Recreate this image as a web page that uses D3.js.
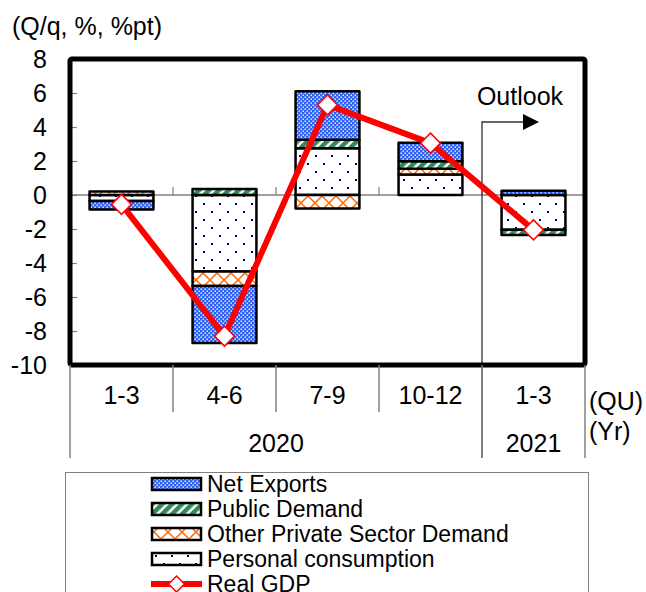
<!DOCTYPE html>
<html>
<head>
<meta charset="utf-8">
<script src="https://cdn.jsdelivr.net/npm/d3@7"></script>
<style>
  html, body { margin: 0; padding: 0; background: #fff; }
  svg { display: block; font-family: "Liberation Sans", Arial, sans-serif; }
</style>
</head>
<body>
<svg id="chart" width="646" height="592"></svg>
<script>
// Quarter labels and year groups for the two-row category axis
const quarters = ["1-3", "4-6", "7-9", "10-12", "1-3"];
const years = [
  { label: "2020", from: 0, to: 4 },
  { label: "2021", from: 4, to: 5 }
];

// Contributions to real GDP growth (q/q, %pt)
const personalConsumption = [-0.35, -4.5, 2.75, 1.2, -2.05];
const otherPrivateDemand  = [0.2, -0.85, -0.8, 0.35, 0];
const publicDemand        = [0, 0.35, 0.5, 0.43, -0.3];
const netExports          = [-0.5, -3.35, 2.85, 1.1, 0.25];
// Real GDP growth (q/q, %)
const realGDP             = [-0.55, -8.3, 5.3, 3.05, -2.05];

const yTicks = [-10, -8, -6, -4, -2, 0, 2, 4, 6, 8];
const outlookStart = 4; // index of the first forecast quarter

const seriesKeys = ["personal", "other", "public", "net"];
const seriesNames = {
  net: "Net Exports",
  public: "Public Demand",
  other: "Other Private Sector Demand",
  personal: "Personal consumption"
};

const rows = quarters.map((q, i) => ({
  i,
  personal: personalConsumption[i],
  other: otherPrivateDemand[i],
  public: publicDemand[i],
  net: netExports[i]
}));

const svg = d3.select("#chart");
const font = 25;
const legendFont = 23;

// ---- patterns ----
const defs = svg.append("defs");

const pNet = defs.append("pattern").attr("id", "pat-net")
  .attr("patternUnits", "userSpaceOnUse").attr("width", 4).attr("height", 4);
pNet.append("rect").attr("width", 4).attr("height", 4).attr("fill", "#2f62f2");
pNet.append("rect").attr("x", 0.5).attr("y", 0.5).attr("width", 1.4).attr("height", 1.4).attr("fill", "#fff");
pNet.append("rect").attr("x", 2.5).attr("y", 2.5).attr("width", 1.4).attr("height", 1.4).attr("fill", "#fff");

const pPub = defs.append("pattern").attr("id", "pat-public")
  .attr("patternUnits", "userSpaceOnUse").attr("width", 7).attr("height", 7)
  .attr("patternTransform", "rotate(45)");
pPub.append("rect").attr("width", 7).attr("height", 7).attr("fill", "#fff");
pPub.append("rect").attr("width", 4.5).attr("height", 7).attr("fill", "#2e8b57");

const pOther = defs.append("pattern").attr("id", "pat-other")
  .attr("patternUnits", "userSpaceOnUse").attr("width", 14).attr("height", 14);
pOther.append("rect").attr("width", 14).attr("height", 14).attr("fill", "#fff");
pOther.append("path").attr("d", "M0,0L14,14M14,0L0,14")
  .attr("stroke", "#ff6a00").attr("stroke-width", 1.5).attr("fill", "none");

const pPers = defs.append("pattern").attr("id", "pat-personal")
  .attr("patternUnits", "userSpaceOnUse").attr("width", 16).attr("height", 16);
pPers.append("rect").attr("width", 16).attr("height", 16).attr("fill", "#fff");
pPers.append("rect").attr("x", 3).attr("y", 3).attr("width", 2).attr("height", 2).attr("fill", "#000080");
pPers.append("rect").attr("x", 11).attr("y", 11).attr("width", 2).attr("height", 2).attr("fill", "#000080");

const fills = {
  net: "url(#pat-net)",
  public: "url(#pat-public)",
  other: "url(#pat-other)",
  personal: "url(#pat-personal)"
};

// ---- scales ----
const plot = { left: 70, right: 585, top: 59, bottom: 365 };
const x = d3.scaleBand().domain(d3.range(quarters.length))
  .range([plot.left, plot.right]).paddingInner(0.38).paddingOuter(0.19);
const step = x.step();
const edge = i => x(i) - step * x.paddingInner() / 2; // left boundary of category i
const y = d3.scaleLinear().domain([-10, 8]).range([plot.bottom, plot.top]);

// ---- zero line and inner ticks ----
svg.append("line")
  .attr("x1", plot.left).attr("x2", plot.right)
  .attr("y1", y(0)).attr("y2", y(0))
  .attr("stroke", "#808080").attr("stroke-width", 1.5);

svg.append("g").selectAll("line").data(d3.range(1, quarters.length)).join("line")
  .attr("x1", i => edge(i)).attr("x2", i => edge(i))
  .attr("y1", y(0)).attr("y2", y(0) - 8)
  .attr("stroke", "#808080").attr("stroke-width", 1.2);

const yInner = svg.append("g").attr("transform", `translate(${plot.left},0)`)
  .call(d3.axisRight(y).tickValues(yTicks).tickSize(7).tickFormat(""));
yInner.select(".domain").remove();
yInner.selectAll("line").attr("stroke", "#808080").attr("stroke-width", 1.2);

// ---- stacked bars ----
const stacked = d3.stack().keys(seriesKeys).offset(d3.stackOffsetDiverging)(rows);
const barLayer = svg.append("g");
stacked.forEach(layer => {
  barLayer.append("g").selectAll("rect")
    .data(layer.filter(d => d[1] !== d[0]))
    .join("rect")
    .attr("x", d => x(d.data.i))
    .attr("width", x.bandwidth())
    .attr("y", d => y(Math.max(d[0], d[1])))
    .attr("height", d => Math.abs(y(d[0]) - y(d[1])))
    .attr("fill", fills[layer.key])
    .attr("stroke", "#000").attr("stroke-width", 2.5)
    .attr("stroke-linejoin", "round");
});

// ---- outlook marker ----
const ox = edge(outlookStart);
svg.append("path")
  .attr("d", `M${ox},458V122H${ox + 42}`)
  .attr("fill", "none").attr("stroke", "#333").attr("stroke-width", 1.3);
svg.append("path")
  .attr("d", `M${ox + 41},114L${ox + 57},122L${ox + 41},130Z`)
  .attr("fill", "#000");
svg.append("text").attr("x", ox + 38).attr("y", 105)
  .attr("text-anchor", "middle").attr("font-size", font).text("Outlook");

// ---- real GDP line ----
const line = d3.line().x((d, i) => x(i) + x.bandwidth() / 2).y(d => y(d));
svg.append("path").datum(realGDP)
  .attr("d", line).attr("fill", "none")
  .attr("stroke", "#ff0000").attr("stroke-width", 6).attr("stroke-linejoin", "round");

const diamond = r => `M0,${-r}L${r},0L0,${r}L${-r},0Z`;
svg.append("g").selectAll("path").data(realGDP).join("path")
  .attr("transform", (d, i) => `translate(${x(i) + x.bandwidth() / 2},${y(d)})`)
  .attr("d", diamond(10))
  .attr("fill", "#fff").attr("stroke", "#ff0000").attr("stroke-width", 1.5);

// ---- plot frame ----
svg.append("rect")
  .attr("x", plot.left).attr("y", plot.top)
  .attr("width", plot.right - plot.left).attr("height", plot.bottom - plot.top)
  .attr("rx", 2).attr("fill", "none").attr("stroke", "#000").attr("stroke-width", 5);

// ---- y axis labels ----
const yAxis = svg.append("g").attr("transform", `translate(${plot.left},0)`)
  .call(d3.axisLeft(y).tickValues(yTicks).tickSize(0).tickPadding(23)
    .tickFormat(d => String(d)));
yAxis.select(".domain").remove();
yAxis.selectAll("text").attr("font-size", font).attr("font-family", null).attr("fill", "#000");

svg.append("text").attr("x", 12).attr("y", 35)
  .attr("font-size", font).text("(Q/q, %, %pt)");

// ---- category table below the plot ----
const table = svg.append("g").attr("stroke", "#808080").attr("stroke-width", 1.5);
d3.range(quarters.length + 1).forEach(i => {
  const isYearEdge = years.some(yr => yr.from === i || yr.to === i);
  const xx = i === quarters.length ? plot.right : edge(i);
  table.append("line")
    .attr("x1", xx).attr("x2", xx)
    .attr("y1", plot.bottom).attr("y2", isYearEdge ? 458 : 412);
});

svg.append("g").selectAll("text").data(quarters).join("text")
  .attr("x", (d, i) => x(i) + x.bandwidth() / 2).attr("y", 404)
  .attr("text-anchor", "middle").attr("font-size", font).text(d => d);

svg.append("g").selectAll("text").data(years).join("text")
  .attr("x", d => (edge(d.from) + (d.to === quarters.length ? plot.right : edge(d.to))) / 2)
  .attr("y", 452)
  .attr("text-anchor", "middle").attr("font-size", font).text(d => d.label);

svg.append("text").attr("x", 589).attr("y", 410).attr("font-size", font).text("(QU)");
svg.append("text").attr("x", 589).attr("y", 440).attr("font-size", font).text("(Yr)");

// ---- legend ----
svg.append("rect").attr("x", 65.5).attr("y", 472.5).attr("width", 523).attr("height", 140)
  .attr("fill", "#fff").attr("stroke", "#808080").attr("stroke-width", 1);

const legendKeys = ["net", "public", "other", "personal"];
const lg = svg.append("g");
legendKeys.forEach((k, j) => {
  const cy = 484 + j * 25;
  lg.append("rect").attr("x", 152).attr("y", cy - 6).attr("width", 49).attr("height", 12)
    .attr("fill", fills[k]).attr("stroke", "#000").attr("stroke-width", 2.5);
  lg.append("text").attr("x", 207).attr("y", cy).attr("dy", "0.36em")
    .attr("font-size", legendFont).text(seriesNames[k]);
});
const gy = 484 + 4 * 25;
lg.append("line").attr("x1", 151).attr("x2", 202).attr("y1", gy).attr("y2", gy)
  .attr("stroke", "#ff0000").attr("stroke-width", 6);
lg.append("path").attr("transform", `translate(176.5,${gy})`).attr("d", diamond(8))
  .attr("fill", "#fff").attr("stroke", "#ff0000").attr("stroke-width", 1.5);
lg.append("text").attr("x", 207).attr("y", gy).attr("dy", "0.36em")
  .attr("font-size", legendFont).text("Real GDP");
</script>
</body>
</html>
